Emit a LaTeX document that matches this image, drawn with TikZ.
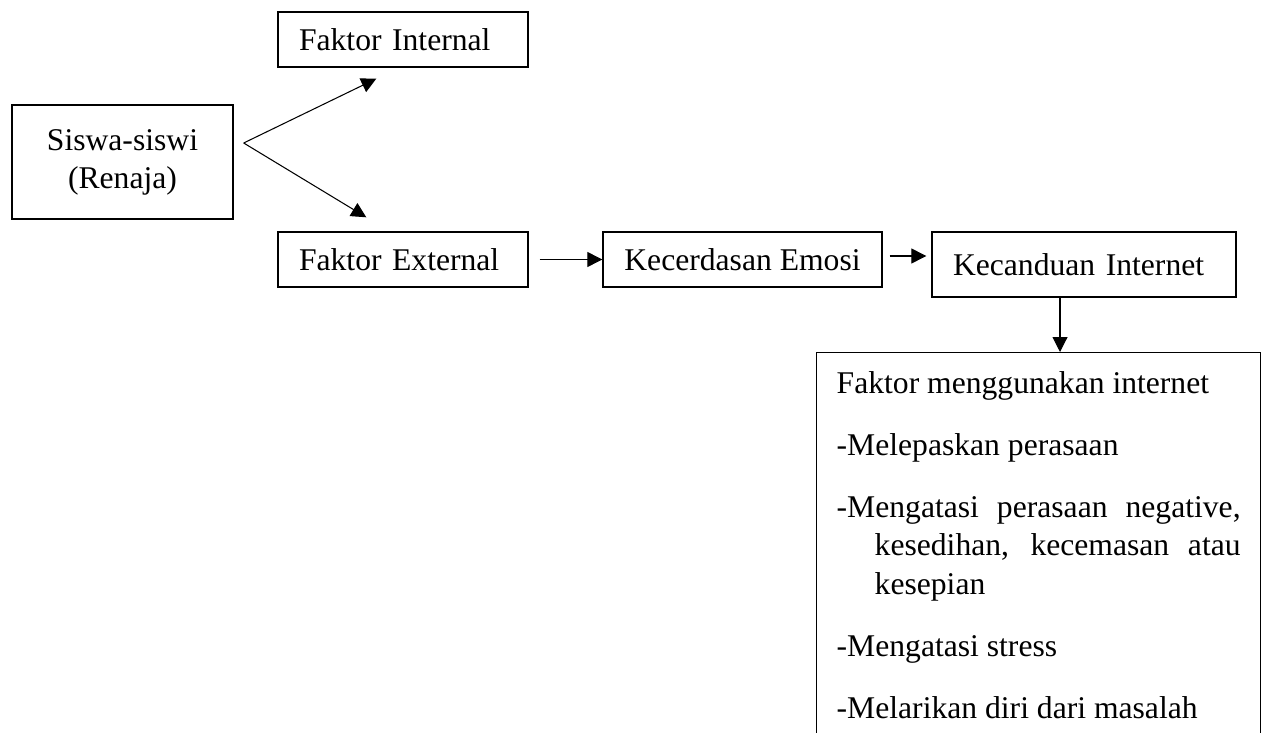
\documentclass[tikz,border=0pt]{standalone}
\usepackage{fontspec}
\setmainfont{Liberation Serif}
\usetikzlibrary{arrows.meta}

\begin{document}
\begin{tikzpicture}[x=0.02cm, y=-0.02cm,
  kotak/.style={draw, line width=0.8pt, font=\fontsize{18}{21.6}\selectfont, inner sep=0pt, minimum height=1.1cm},
  panah/.style={-{Triangle[length=0.3cm,width=0.3cm]}, line width=0.6pt}]
  \useasboundingbox (0,0) rectangle (1264,733);
  \clip (0,0) rectangle (1264,733);
  % kotak-kotak
  \node[kotak, minimum width=4.42cm, minimum height=2.28cm, align=center] (siswa) at (122.5,162) {Siswa-siswi\\(Renaja)};
  \node[kotak, text width=4.16cm, inner xsep=0.42cm, align=left] (internal) at (403,39.5) {Faktor Internal};
  \node[kotak, text width=4.16cm, inner xsep=0.42cm, align=left] (external) at (403,259.5) {Faktor External};
  \node[kotak, minimum width=5.58cm] (emosi) at (742.5,259.5) {Kecerdasan Emosi};
  \node[kotak, text width=5.24cm, inner xsep=0.42cm, minimum height=1.3cm, align=left] (kecanduan) at (1084,264.5) {Kecanduan Internet};
  \node[kotak, anchor=north west, text width=8.08cm, inner xsep=0.4cm, inner ysep=0.38cm, align=justify,
    font={\fontsize{18}{21.8}\selectfont\setlength{\parskip}{13.5pt}\setlength{\parindent}{0pt}}] (alasan) at (816,352)
    {Faktor menggunakan internet\par
     -Melepaskan perasaan\par
     \hangindent=0.76cm\hangafter=1 -Mengatasi perasaan negative,\linebreak kesedihan, kecemasan atau\linebreak kesepian\par
     -Mengatasi stress\par
     -Melarikan diri dari masalah\par
     \rule{0pt}{1.5cm}};
  % panah
  \coordinate (cabang) at ([xshift=0.2cm,yshift=0.38cm]siswa.east);
  \coordinate (ujung1) at ([xshift=1.98cm,yshift=-0.22cm]internal.south west);
  \coordinate (ujung2) at ([xshift=1.78cm,yshift=0.28cm]external.north west);
  \draw[panah] (cabang) -- (ujung1);
  \draw[panah] (cabang) -- (ujung2);
  \draw[panah] ([xshift=0.22cm]external.east) -- (emosi.west);
  \coordinate (e1) at ([xshift=0.14cm,yshift=0.07cm]emosi.east);
  \draw[panah] (e1) -- ([xshift=-0.1cm]kecanduan.west |- e1);
  \draw[panah] ([xshift=-0.48cm]kecanduan.south) -- ([xshift=-0.48cm]kecanduan.south |- alasan.north);
\end{tikzpicture}
\end{document}
